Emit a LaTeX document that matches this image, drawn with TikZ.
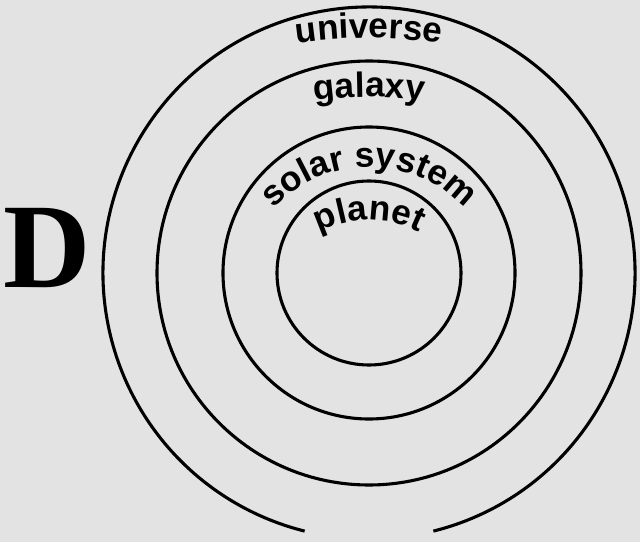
\documentclass[tikz,border=0pt]{standalone}
\usepackage{fontspec}
\setmainfont{Liberation Serif}
\newfontfamily\ringfont{Liberation Sans}
\usetikzlibrary{decorations.text}
\definecolor{Paper}{gray}{0.89}
\tikzset{ring/.style ={
        draw=black,
        line width=2.2pt,
    },
    ringlabel/.style ={
        decorate,
        decoration={text along path,
            text align=center,
            text={|\ringfont\bfseries\fontsize{25}{30}\selectfont|#1}}
    },
    letter/.style ={
        anchor=base west,
        inner sep=0pt,
        font=\bfseries\fontsize{86}{86}\selectfont
    }}

\begin{document}
\begin{tikzpicture}[x=0.025cm, y=0.025cm]
    \fill[Paper] (0,0) rectangle (640,542);
    \useasboundingbox (0,0) rectangle (640,542);
    \coordinate (c) at (369,269);
    \node (D)[letter] at (3,255) {D};

    \draw[ring] (c) circle[radius=92];
    \draw[ring] (c) circle[radius=146];
    \draw[ring] (c) circle[radius=212];
    \draw[ring] (c) ++(284:266) arc[start angle=284, end angle=616, radius=266];

    \path[ringlabel=universe] (c) ++(0,-265) ++(105:500) arc[start angle=105, end angle=75, radius=500];
    \path[ringlabel=galaxy] (c) ++(0,-224) ++(110:400) arc[start angle=110, end angle=70, radius=400];
    \path[ringlabel=solar system] (c) ++(0,-24) ++(160:130) arc[start angle=160, end angle=20, radius=130];
    \path[ringlabel=planet] (c) ++(0,-57) ++(150:110) arc[start angle=150, end angle=30, radius=110];
\end{tikzpicture}
\end{document}
